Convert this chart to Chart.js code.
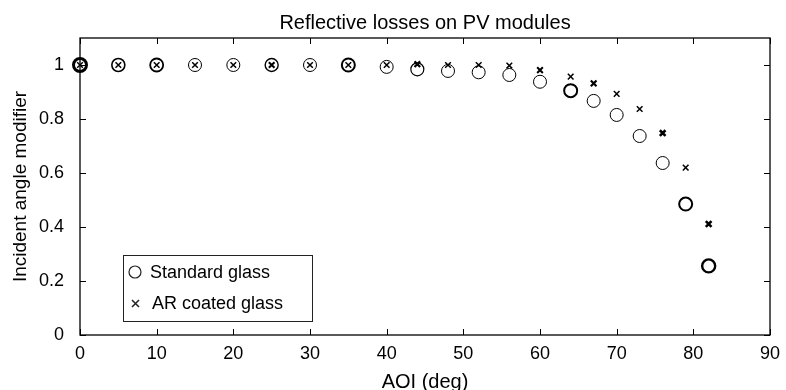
<!DOCTYPE html>
<html>
<head>
<meta charset="utf-8">
<script src="https://cdn.jsdelivr.net/npm/chart.js@4.4.1/dist/chart.umd.min.js"></script>
<style>
  html, body { margin: 0; padding: 0; background: #fff; }
  #wrap { width: 786px; height: 390px; }
</style>
</head>
<body>
<div id="wrap"><canvas id="chart" width="786" height="390"></canvas></div>
<script>
// angle of incidence (deg)
const aoi = [0, 5, 10, 15, 20, 25, 30, 35, 40, 44, 48, 52, 56, 60, 64, 67, 70, 73, 76, 79, 82];
// incident angle modifier, standard glass
const standardGlass = [1, 1, 1, 1, 1, 1, 1, 1, 0.993, 0.984, 0.978, 0.973, 0.963, 0.938, 0.905, 0.867, 0.815, 0.737, 0.637, 0.485, 0.256];
// incident angle modifier, anti-reflective coated glass
const arGlass = [1, 1, 1, 1, 1, 1, 1, 1, 1, 1.003, 1, 1, 0.998, 0.981, 0.957, 0.932, 0.893, 0.837, 0.748, 0.62, 0.411];
const xTicks = [0, 10, 20, 30, 40, 50, 60, 70, 80, 90];
const yTicks = [0, 0.2, 0.4, 0.6, 0.8, 1];

// a few markers in the original look heavier (overplotted)
const stdWeight = [3, 1.6, 1.8, 1, 1, 1.4, 1, 2, 1, 1.2, 1, 1, 1, 1, 2, 1, 1, 1, 1, 2, 2.4];
const arWeight = [1.5, 1.5, 1.5, 1.5, 1.5, 2, 1.5, 1.5, 1.5, 2.2, 1.5, 1.5, 1.5, 2, 1.5, 2.2, 1.5, 1.5, 2.6, 1.5, 2.6];

const FONT = "'Liberation Sans', Arial, Helvetica, sans-serif";

// frame, inside ticks, title and legend like the matlab figure
const frame = {
  id: 'frame',
  afterDraw(chart) {
    const ctx = chart.ctx;
    const a = chart.chartArea;
    const xs = chart.scales.x, ys = chart.scales.y;
    ctx.save();
    ctx.strokeStyle = '#000';
    ctx.lineWidth = 1.3;
    ctx.strokeRect(a.left, a.top, a.right - a.left, a.bottom - a.top);
    ctx.lineWidth = 1;
    const t = 6;
    ctx.beginPath();
    xTicks.forEach(v => {
      const px = Math.round(xs.getPixelForValue(v)) + 0.5;
      ctx.moveTo(px, a.bottom); ctx.lineTo(px, a.bottom - t);
      ctx.moveTo(px, a.top); ctx.lineTo(px, a.top + t);
    });
    yTicks.forEach(v => {
      const py = Math.round(ys.getPixelForValue(v)) + 0.5;
      ctx.moveTo(a.left, py); ctx.lineTo(a.left + t, py);
      ctx.moveTo(a.right, py); ctx.lineTo(a.right - t, py);
    });
    ctx.stroke();

    // title
    ctx.fillStyle = '#000';
    ctx.font = '20px ' + FONT;
    ctx.textAlign = 'center';
    ctx.textBaseline = 'middle';
    ctx.fillText('Reflective losses on PV modules', (a.left + a.right) / 2, 23);

    // legend
    const lx = 123, ly = 255, lw = 189, lh = 66;
    ctx.fillStyle = '#fff';
    ctx.fillRect(lx, ly, lw, lh);
    ctx.strokeStyle = '#222';
    ctx.lineWidth = 1;
    ctx.strokeRect(lx + 0.5, ly + 0.5, lw, lh);
    ctx.lineWidth = 1.2;
    ctx.beginPath();
    ctx.arc(135, 272, 6, 0, Math.PI * 2);
    ctx.stroke();
    ctx.lineWidth = 1.5;
    ctx.beginPath();
    ctx.moveTo(132, 300); ctx.lineTo(139, 307);
    ctx.moveTo(139, 300); ctx.lineTo(132, 307);
    ctx.stroke();
    ctx.fillStyle = '#000';
    ctx.font = '18px ' + FONT;
    ctx.textAlign = 'left';
    ctx.fillText('Standard glass', 150, 273);
    ctx.fillText('AR coated glass', 152, 304);
    ctx.restore();
  }
};

new Chart(document.getElementById('chart'), {
  type: 'scatter',
  data: {
    datasets: [
      {
        label: 'Standard glass',
        data: aoi.map((x, i) => ({ x, y: standardGlass[i] })),
        pointStyle: 'circle',
        pointRadius: 6.5,
        pointBorderWidth: stdWeight,
        borderColor: '#000',
        backgroundColor: 'rgba(0,0,0,0)',
        clip: false
      },
      {
        label: 'AR coated glass',
        data: aoi.map((x, i) => ({ x, y: arGlass[i] })),
        pointStyle: 'crossRot',
        pointRadius: 4,
        pointBorderWidth: arWeight,
        borderColor: '#000',
        backgroundColor: '#000',
        clip: false
      }
    ]
  },
  options: {
    responsive: false,
    animation: false,
    devicePixelRatio: 1,
    layout: { padding: { top: 38, right: 16, left: 0, bottom: 0 } },
    plugins: {
      legend: { display: false },
      title: { display: false },
      tooltip: { enabled: false }
    },
    scales: {
      x: {
        type: 'linear',
        min: 0,
        max: 90,
        afterBuildTicks: s => { s.ticks = xTicks.map(v => ({ value: v })); },
        afterFit: s => { s.height = 55; },
        grid: { display: false },
        border: { display: false },
        ticks: { color: '#000', padding: 0, font: { family: FONT, size: 18 } },
        title: { display: true, text: 'AOI (deg)', color: '#000', padding: { top: 0, bottom: -2 }, font: { family: FONT, size: 20, lineHeight: 1 } }
      },
      y: {
        type: 'linear',
        min: 0,
        max: 1.1,
        afterBuildTicks: s => { s.ticks = yTicks.map(v => ({ value: v })); },
        afterFit: s => { s.width = 80; },
        grid: { display: false },
        border: { display: false },
        ticks: { color: '#000', padding: 8, font: { family: FONT, size: 18 }, callback: v => String(Math.round(v * 10) / 10) },
        title: { display: true, text: 'Incident angle modifier', color: '#000', padding: { top: 9, bottom: 0 }, font: { family: FONT, size: 19 } }
      }
    }
  },
  plugins: [frame]
});
</script>
</body>
</html>
